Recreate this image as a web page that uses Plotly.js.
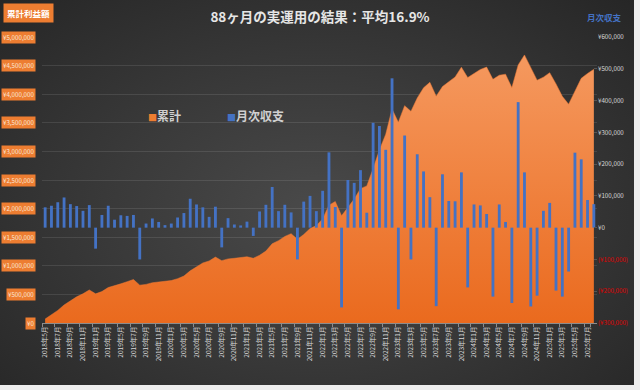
<!DOCTYPE html>
<html>
<head>
<meta charset="utf-8">
<script src="https://cdn.plot.ly/plotly-3.0.1.min.js"></script>
<style>
html,body{margin:0;padding:0;background:#eeeeee;}
#bg{position:absolute;left:0;top:0;width:634px;height:385px;
 background:radial-gradient(ellipse at 50% 55%, #4a4a4a 0%, #3a3a3a 45%, #262626 100%);}
#chart{position:absolute;left:0;top:0;width:640px;height:390px;}
</style>
</head>
<body>
<div id="bg"></div>
<div id="chart"></div>
<script>
const months = [
"2018年5月","2018年6月","2018年7月","2018年8月","2018年9月","2018年10月","2018年11月","2018年12月",
"2019年1月","2019年2月","2019年3月","2019年4月","2019年5月","2019年6月","2019年7月","2019年8月","2019年9月","2019年10月","2019年11月","2019年12月",
"2020年1月","2020年2月","2020年3月","2020年4月","2020年5月","2020年6月","2020年7月","2020年8月","2020年9月","2020年10月","2020年11月","2020年12月",
"2021年1月","2021年2月","2021年3月","2021年4月","2021年5月","2021年6月","2021年7月","2021年8月","2021年9月","2021年10月","2021年11月","2021年12月",
"2022年1月","2022年2月","2022年3月","2022年4月","2022年5月","2022年6月","2022年7月","2022年8月","2022年9月","2022年10月","2022年11月","2022年12月",
"2023年1月","2023年2月","2023年3月","2023年4月","2023年5月","2023年6月","2023年7月","2023年8月","2023年9月","2023年10月","2023年11月","2023年12月",
"2024年1月","2024年2月","2024年3月","2024年4月","2024年5月","2024年6月","2024年7月","2024年8月","2024年9月","2024年10月","2024年11月","2024年12月",
"2025年1月","2025年2月","2025年3月","2025年4月","2025年5月","2025年6月","2025年7月","2025年8月"];

// 月次収支 (yen)
const monthly = [
64000,69000,80000,95000,74000,68000,53000,71000,
-66000,40000,69000,25000,39000,37000,40000,-100000,13000,29000,18000,8000,
13000,32000,46000,91000,73000,64000,34000,66000,-62000,30000,10000,7000,
19000,-26000,51000,72000,128000,52000,72000,48000,-100000,82000,100000,52000,
116000,237000,65000,-251000,150000,141000,181000,47000,330000,320000,245000,470000,
-257000,290000,-100000,231000,177000,96000,-247000,168000,84000,83000,174000,-188000,
73000,70000,43000,-217000,73000,18000,-237000,395000,174000,-248000,-214000,53000,
78000,-198000,-217000,-138000,236000,215000,87000,74000];

// 累計 (yen)
const cumulative = [
70000,140000,220000,315000,390000,458000,511000,578000,
510000,550000,620000,646000,685000,722000,760000,662000,675000,704000,721000,729000,
742000,775000,821000,912000,985000,1050000,1085000,1152000,1090000,1121000,1131000,1138000,
1158000,1132000,1184000,1257000,1386000,1440000,1513000,1562000,1463000,1547000,1650000,1703000,
1820000,2058000,2124000,1874000,2025000,2167000,2349000,2397000,2700000,3025000,3300000,3740000,
3510000,3800000,3700000,3935000,4112000,4208000,3965000,4133000,4218000,4300000,4472000,4290000,
4362000,4432000,4474000,4260000,4332000,4350000,4115000,4512000,4686000,4455000,4245000,4298000,
4376000,4180000,3962000,3826000,4062000,4277000,4363000,4435000];

const seriesNames = ['累計','月次収支'];
const seriesColors = ['#ED7D31','#4472C4'];

const xTickLabels = months.filter((m,i)=>i%2===0);
const leftTicks = [0,500000,1000000,1500000,2000000,2500000,3000000,3500000,4000000,4500000,5000000];
const rightTicks = [-300000,-200000,-100000,0,100000,200000,300000,400000,500000,600000];

const FONT = '"Noto Sans CJK JP", "Noto Sans", sans-serif';
const fmt = v => '¥' + Math.abs(v).toLocaleString('en-US');
const rightText = rightTicks.map(v => v < 0 ? '<span style="color:#E00000">(' + fmt(v) + ')</span>' : fmt(v));

const traces = [
 {type:'scatter', name:seriesNames[0], x:months, y:cumulative, yaxis:'y', fill:'tozeroy', mode:'lines',
  line:{color:'#F07A35', width:0.5, shape:'linear'},
  fillcolor:'#F07A35',
  fillgradient:{type:'vertical', start:0, stop:4700000, colorscale:[[0,'#EA6A1E'],[1,'#F5995F']]},
  hoverinfo:'skip', showlegend:false},
 {type:'bar', name:seriesNames[1], x:months, y:monthly, yaxis:'y2', width:0.45,
  marker:{color:seriesColors[1], line:{width:0}}, hoverinfo:'skip', showlegend:false}
];

const annotations = leftTicks.map(v => ({
  xref:'paper', yref:'y', x:-0.011, y:v, xanchor:'right', yanchor:'middle',
  text: fmt(v), showarrow:false, bgcolor:'#ED7D31', borderpad:1,
  font:{family:FONT, size:6.2, color:'#FBE5D6'}
}));
annotations.push({xref:'paper', yref:'paper', x:-0.07, y:1.118, xanchor:'left', yanchor:'top',
  text:'累計利益額', showarrow:false, bgcolor:'#ED7D31', borderpad:3,
  font:{family:FONT, size:8.5, color:'#ffffff', weight:'bold'}});
annotations.push({xref:'paper', yref:'paper', x:1.0144, y:1.07, xanchor:'center', yanchor:'middle',
  text:'月次収支', showarrow:false,
  font:{family:FONT, size:8.5, color:'#4472C4', weight:'bold'}});
const legendX = [0.187, 0.33];
seriesNames.forEach((n,i) => annotations.push({
  xref:'paper', yref:'paper', x:legendX[i], y:0.727, xanchor:'left', yanchor:'middle',
  text:'<span style="color:' + seriesColors[i] + ';font-size:9px">■</span>' + n, showarrow:false,
  font:{family:FONT, size:12, color:'#d0d0d0', weight:'bold'}
}));

const layout = {
  width:640, height:390,
  paper_bgcolor:'rgba(0,0,0,0)', plot_bgcolor:'rgba(0,0,0,0)',
  margin:{l:42, r:43, t:37, b:67},
  font:{family:FONT, color:'#d9d9d9'},
  title:{text:'88ヶ月の実運用の結果：平均16.9%', x:0.5, xref:'container', xanchor:'center',
    y:0.955, yref:'container', yanchor:'middle',
    font:{family:FONT, size:13.5, color:'#e6e6e6', weight:'bold'}},
  showlegend:false,
  xaxis:{type:'category', tickmode:'array', tickvals:xTickLabels, ticktext:xTickLabels,
    tickson:'boundaries', ticks:'outside', ticklen:3, tickcolor:'#8c8c8c',
    tickangle:-90, tickfont:{family:FONT, size:6.5, color:'#d9d9d9'},
    showline:true, linecolor:'#8c8c8c', linewidth:1, showgrid:false, zeroline:false,
    range:[-0.5, 87.5]},
  yaxis:{range:[0,5000000], tickmode:'array', tickvals:leftTicks, showticklabels:false,
    showgrid:true, gridcolor:'rgba(255,255,255,0.10)', gridwidth:1, zeroline:false, ticks:''},
  yaxis2:{overlaying:'y', side:'right', range:[-300000,600000], tickmode:'array',
    tickvals:rightTicks, ticktext:rightText, showgrid:false, zeroline:false,
    ticks:'inside', ticklen:3, tickcolor:'#555555',
    tickfont:{family:FONT, size:6.2, color:'#d9d9d9'}},
  annotations: annotations
};

Plotly.newPlot('chart', traces, layout, {displayModeBar:false, staticPlot:true});
</script>
</body>
</html>
